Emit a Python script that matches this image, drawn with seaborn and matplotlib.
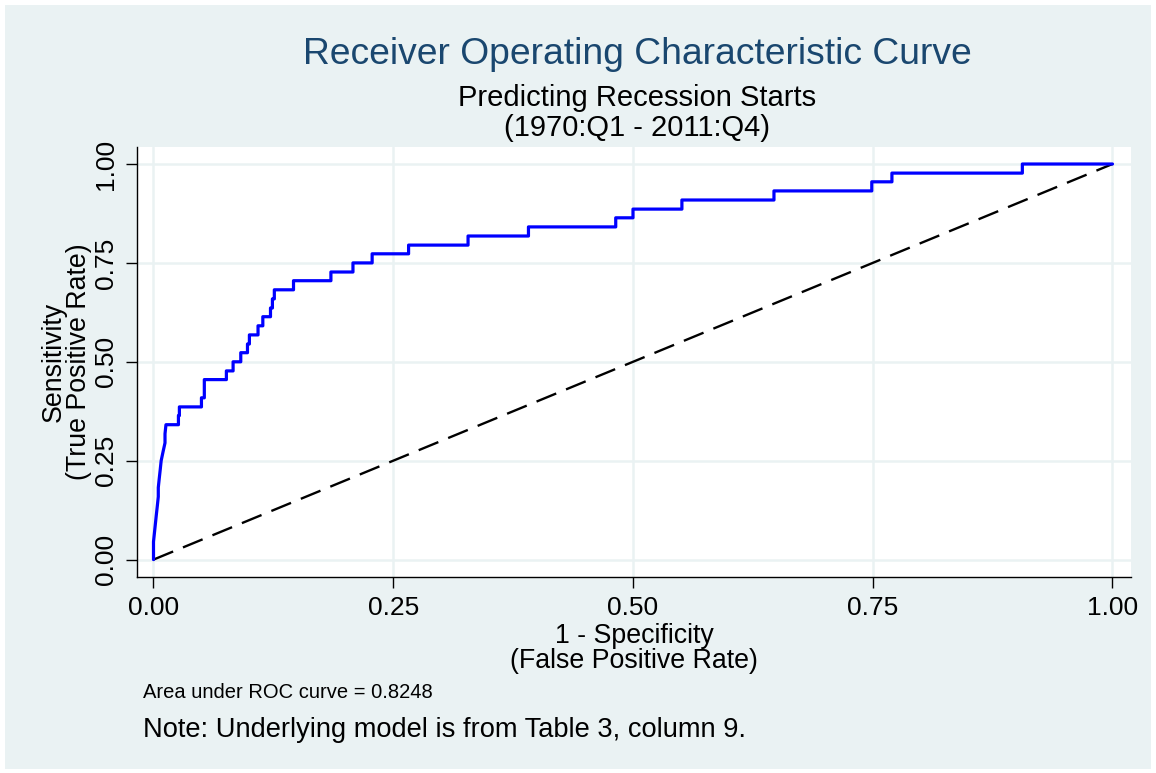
import matplotlib
matplotlib.use("Agg")
import matplotlib.pyplot as plt
from matplotlib.patches import Rectangle
import seaborn as sns
import pandas as pd

# ROC curve corners (1 - specificity, sensitivity)
fpr = [0.000, 0.000, 0.001, 0.002, 0.003, 0.004, 0.005, 0.005, 0.006, 0.007,
       0.008, 0.010, 0.012, 0.012, 0.013, 0.026, 0.026, 0.027, 0.027, 0.050,
       0.050, 0.053, 0.053, 0.076, 0.076, 0.083, 0.083, 0.091, 0.091, 0.098,
       0.098, 0.100, 0.100, 0.109, 0.109, 0.114, 0.114, 0.122, 0.122, 0.124,
       0.124, 0.126, 0.126, 0.146, 0.146, 0.185, 0.185, 0.208, 0.208, 0.228,
       0.228, 0.266, 0.266, 0.328, 0.328, 0.391, 0.391, 0.482, 0.482, 0.500,
       0.500, 0.551, 0.551, 0.647, 0.647, 0.749, 0.749, 0.770, 0.770, 0.906,
       0.906, 1.000]
tpr = [0.000, 0.045, 0.068, 0.091, 0.114, 0.136, 0.159, 0.182, 0.205, 0.227,
       0.250, 0.273, 0.295, 0.318, 0.341, 0.341, 0.364, 0.364, 0.386, 0.386,
       0.409, 0.409, 0.455, 0.455, 0.477, 0.477, 0.500, 0.500, 0.523, 0.523,
       0.545, 0.545, 0.568, 0.568, 0.591, 0.591, 0.614, 0.614, 0.636, 0.636,
       0.659, 0.659, 0.682, 0.682, 0.705, 0.705, 0.727, 0.727, 0.750, 0.750,
       0.773, 0.773, 0.795, 0.795, 0.818, 0.818, 0.841, 0.841, 0.864, 0.864,
       0.886, 0.886, 0.909, 0.909, 0.932, 0.932, 0.955, 0.955, 0.977, 0.977,
       1.000, 1.000]
ref_line = [0.0, 1.0]
ticks = [0.0, 0.25, 0.5, 0.75, 1.0]
tick_labels = ["0.00", "0.25", "0.50", "0.75", "1.00"]
auc = 0.8248

sns.set_theme(style="white")
plt.rcParams['font.family'] = ['Liberation Sans', 'DejaVu Sans']
plt.rcParams['text.color'] = 'black'
plt.rcParams['axes.labelcolor'] = 'black'
plt.rcParams['xtick.color'] = 'black'
plt.rcParams['ytick.color'] = 'black'

bg = "#EAF2F3"
fig = plt.figure(figsize=(11.56, 7.73), dpi=100, facecolor="white")
fig.patches.append(Rectangle((5 / 1156, 4 / 773), 1146 / 1156, 764 / 773,
                             transform=fig.transFigure, facecolor=bg,
                             edgecolor="none", zorder=-10))
ax = fig.add_axes([137 / 1156, 196 / 773, 994 / 1156, 430 / 773])
ax.set_facecolor("white")

roc = pd.DataFrame({"fpr": fpr, "tpr": tpr})
sns.lineplot(data=roc, x="fpr", y="tpr", sort=False, estimator=None,
             color="#0000FF", linewidth=2.3, ax=ax, zorder=3)
sns.lineplot(x=ref_line, y=ref_line, color="black", linewidth=1.7,
             dashes=False, ax=ax, zorder=2)
ax.lines[-1].set_dashes((9, 4.5))

ax.set_xlim(-0.0172, 1.0193)
ax.set_ylim(-0.044, 1.043)
ax.set_xticks(ticks)
ax.set_xticklabels(tick_labels)
ax.set_yticks(ticks)
ax.set_yticklabels(tick_labels, rotation=90, va="center")
ax.grid(True, color=bg, linewidth=1.8)
ax.set_axisbelow(True)
for s in ["top", "right"]:
    ax.spines[s].set_visible(False)
for s in ["left", "bottom"]:
    ax.spines[s].set_color("black")
    ax.spines[s].set_linewidth(1.0)
ax.tick_params(axis="both", direction="out", length=8, width=1.0,
               color="black", labelcolor="black", labelsize=19, pad=6,
               left=True, bottom=True)

ax.set_xlabel("1 - Specificity\n(False Positive Rate)", fontsize=19.3,
              linespacing=0.95, labelpad=2)
ax.set_ylabel("Sensitivity\n(True Positive Rate)", fontsize=19.3,
              linespacing=0.95, labelpad=1)

fig.text(0.551, 1 - 55 / 773, "Receiver Operating Characteristic Curve",
         ha="center", va="center", fontsize=26.8, color="#1A476F")
fig.text(0.551, 1 - 113 / 773, "Predicting Recession Starts\n(1970:Q1 - 2011:Q4)",
         ha="center", va="center", fontsize=21, linespacing=1.05, color="black")
fig.text(143 / 1156, 1 - 692 / 773, f"Area under ROC curve = {auc:.4f}",
         ha="left", va="center", fontsize=14.5, color="black")
fig.text(143 / 1156, 1 - 730 / 773, "Note: Underlying model is from Table 3, column 9.",
         ha="left", va="center", fontsize=19.6, color="black")

fig.savefig("out.png", dpi=100, facecolor=fig.get_facecolor())
